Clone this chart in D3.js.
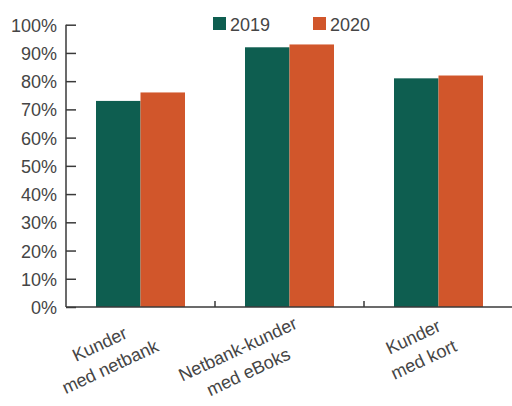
<!DOCTYPE html>
<html>
<head>
<meta charset="utf-8">
<script src="https://cdn.jsdelivr.net/npm/d3@7"></script>
<style>
	body { margin: 0; background: #fff; }
	text { font-family: "Liberation Sans", Arial, sans-serif; fill: #454545; }
</style>
</head>
<body>
<svg id="chart" width="512" height="406"></svg>
<script>
//=================== DATA ====================================
var categories = [["Kunder", "med netbank"], ["Netbank-kunder", "med eBoks"], ["Kunder", "med kort"]];
var seriesNames = ["2019", "2020"];
var values2019 = [0.73, 0.92, 0.81];
var values2020 = [0.76, 0.93, 0.82];
var yTicks = [0, 0.1, 0.2, 0.3, 0.4, 0.5, 0.6, 0.7, 0.8, 0.9, 1.0];

//=================== SETTINGS ====================================
var colours = ["#0e5e50", "#d1562b"];
var axisColour = "#3a3a3a";
var plotLeft = 66, plotRight = 513, plotTop = 24.7, plotBottom = 307;
var groupWidth = 89;

var svg = d3.select("#chart");

var dataset = categories.map(function (c, i) {
	return { key: i, label: c, values: [values2019[i], values2020[i]] };
});

//scales
var yScale = d3.scaleLinear()
	.domain([0, 1])
	.range([plotBottom, plotTop]);

var x0 = d3.scaleBand()
	.domain(d3.range(categories.length))
	.range([plotLeft, plotRight])
	.padding(0);

var x1 = d3.scaleBand()
	.domain(d3.range(seriesNames.length))
	.range([0, groupWidth]);

var groupOffset = (x0.bandwidth() - groupWidth) / 2;

//=================== BARS ====================================
var groups = svg.append("g")
	.selectAll("g")
	.data(dataset)
	.enter()
	.append("g")
	.attr("transform", function (d) { return "translate(" + (x0(d.key) + groupOffset) + ",0)"; });

groups.selectAll("rect")
	.data(function (d) { return d.values; })
	.enter()
	.append("rect")
	.attr("x", function (d, i) { return x1(i); })
	.attr("width", x1.bandwidth())
	.attr("y", function (d) { return yScale(d); })
	.attr("height", function (d) { return plotBottom - yScale(d); })
	.style("fill", function (d, i) { return colours[i]; });

//=================== Y AXIS ====================================
var yAxis = d3.axisRight(yScale)
	.tickValues(yTicks)
	.tickSize(10)
	.tickFormat(function (d) { return Math.round(d * 100) + "%"; });

var yg = svg.append("g")
	.attr("transform", "translate(" + plotLeft + ",0)")
	.call(yAxis);

yg.select(".domain").remove();
yg.append("line")
	.attr("x1", 0).attr("x2", 0)
	.attr("y1", plotTop).attr("y2", plotBottom)
	.style("stroke", axisColour)
	.style("stroke-width", 1.5);
yg.selectAll(".tick line")
	.style("stroke", axisColour)
	.style("stroke-width", 1.5);
yg.selectAll(".tick text")
	.attr("x", -9)
	.attr("dy", "0.36em")
	.style("text-anchor", "end")
	.style("font-size", "18px")
	.style("fill", "#454545");

//=================== X AXIS ====================================
var xg = svg.append("g");

xg.append("line")
	.attr("x1", plotLeft).attr("x2", plotRight)
	.attr("y1", plotBottom).attr("y2", plotBottom)
	.style("stroke", axisColour)
	.style("stroke-width", 1.5);

xg.selectAll("line.sep")
	.data(d3.range(1, categories.length + 1))
	.enter()
	.append("line")
	.classed("sep", true)
	.attr("x1", function (d) { return plotLeft + d * x0.bandwidth(); })
	.attr("x2", function (d) { return plotLeft + d * x0.bandwidth(); })
	.attr("y1", plotBottom)
	.attr("y2", plotBottom - 6)
	.style("stroke", axisColour)
	.style("stroke-width", 1.5);

var labels = xg.selectAll("g.label")
	.data(dataset)
	.enter()
	.append("g")
	.classed("label", true)
	.attr("transform", function (d) {
		return "translate(" + (x0(d.key) + x0.bandwidth() / 2 + 3) + "," + (plotBottom + 8) + ") rotate(-25)";
	});

labels.each(function (d) {
	var g = d3.select(this);
	var t = g.append("text")
		.style("font-size", "18px")
		.style("text-anchor", "middle");
	t.selectAll("tspan")
		.data(d.label)
		.enter()
		.append("tspan")
		.attr("y", function (s, i) { return 14 + i * 25; })
		.text(function (s) { return s; });
	// widest line sets the block width; the top right corner sits at the tick
	var w = d3.max(t.selectAll("tspan").nodes(), function (n) { return n.getComputedTextLength(); });
	t.selectAll("tspan").attr("x", -w / 2);
});

//=================== LEGEND ====================================
var legendX = [213, 313];
var legend = svg.append("g")
	.selectAll("g")
	.data(seriesNames)
	.enter()
	.append("g")
	.attr("transform", function (d, i) { return "translate(" + legendX[i] + ",17)"; });

legend.append("rect")
	.attr("width", 13)
	.attr("height", 13)
	.style("fill", function (d, i) { return colours[i]; });

legend.append("text")
	.attr("x", 17)
	.attr("y", 13.5)
	.style("font-size", "18px")
	.text(function (d) { return d; });
</script>
</body>
</html>
